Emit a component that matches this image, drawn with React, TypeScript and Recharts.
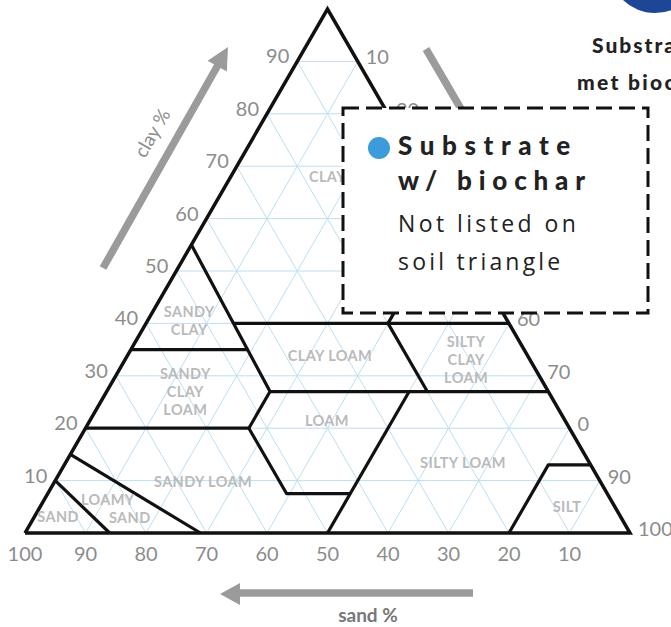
import React from 'react';
import { ScatterChart, Scatter, XAxis, YAxis, ReferenceLine } from 'recharts';

// every 10 % of each fraction gets a light grid line
const gridSteps = [10, 20, 30, 40, 50, 60, 70, 80, 90];

const sandTicks = [100, 90, 80, 70, 60, 50, 40, 30, 20, 10];
const clayTicks = [10, 20, 30, 40, 50, 60, 70, 80, 90];
const siltTicks = [10, 20, 30, 40, 50, 60, 70, 80, 90, 100];
const siltTickText = ['10', '20', '30', '40', '50', '60', '70', '0', '90', '100'];

// triangle edges and texture class borders as [sand %, clay %]
const outline = [[100, 0], [0, 100], [0, 0], [100, 0]];
const borders = [
  [[45, 55], [46, 27], [53, 20], [53, 7.5], [42.5, 7.5]],
  [[45.5, 40], [0, 40]],
  [[20, 40], [0, 60]],
  [[65, 35], [45.6, 35]],
  [[46, 27], [0, 27]],
  [[20, 40], [20, 27]],
  [[80, 20], [53, 20]],
  [[50, 0], [23, 27]],
  [[20, 0], [7, 13], [0, 13]],
  [[85, 15], [71, 0]],
  [[90, 10], [86, 0]],
];

const classNames = [
  { lines: ['CLAY'], sand: 16, clay: 68 },
  { lines: ['SANDY', 'CLAY'], sand: 52.6, clay: 40.5 },
  { lines: ['SANDY', 'CLAY', 'LOAM'], sand: 60, clay: 27 },
  { lines: ['CLAY LOAM'], sand: 32.7, clay: 33.8 },
  { lines: ['SILTY', 'CLAY', 'LOAM'], sand: 10.6, clay: 33 },
  { lines: ['LOAM'], sand: 39.4, clay: 21.4 },
  { lines: ['SILTY LOAM'], sand: 20.9, clay: 13.4 },
  { lines: ['SANDY LOAM'], sand: 65.7, clay: 9.75 },
  { lines: ['LOAMY', 'SAND'], sand: 82.2, clay: 4.6, shift: 11 },
  { lines: ['SAND'], sand: 93, clay: 3.06 },
  { lines: ['SILT'], sand: 7.9, clay: 5 },
];

const H3 = Math.sqrt(3) / 2;
const PX = 6.05; // pixels per percent along a side

const toXY = (sand: number, clay: number) => {
  const silt = 100 - sand - clay;
  return { x: silt + clay / 2, y: clay * H3 };
};

const gridLines: { x: number; y: number }[][] = [];
gridSteps.forEach((v) => {
  gridLines.push([toXY(100 - v, v), toXY(0, v)]); // clay
  gridLines.push([toXY(v, 100 - v), toXY(v, 0)]); // sand
  gridLines.push([toXY(100 - v, 0), toXY(0, 100 - v)]); // silt
});

const sandPts = sandTicks.map((s) => ({ ...toXY(s, 0), label: String(s) }));
const clayPts = clayTicks.map((c) => ({ ...toXY(100 - c, c), label: String(c) }));
const siltPts = siltTicks.map((t, i) => ({ ...toXY(0, 100 - t), label: siltTickText[i] }));
const namePts = classNames.map((n) => ({ ...toXY(n.sand, n.clay), lines: n.lines, shift: n.shift || 0 }));

const tickFont = { fontFamily: 'Lato, sans-serif', fontSize: 20, fill: '#8c8c8c' };

const tickShape = (anchor: 'start' | 'middle' | 'end', dx: number, dy: number) => (p: any) => (
  <text x={p.cx + dx} y={p.cy + dy} textAnchor={anchor} {...tickFont}>
    {p.payload?.label}
  </text>
);

const NameShape = (p: any) => {
  const lines: string[] = p.payload?.lines || [];
  const shift = p.payload?.shift || 0;
  const gap = 18;
  const top = p.cy - ((lines.length - 1) * gap) / 2 + 5;
  return (
    <g>
      {lines.map((l, i) => (
        <text
          key={i}
          x={p.cx + (lines.length > 1 ? (i === 0 ? -shift : shift) : 0)}
          y={top + i * gap}
          textAnchor="middle"
          fontFamily="Lato, sans-serif"
          fontWeight={700}
          fontSize={14.5}
          letterSpacing={0.4}
          fill="#bababa"
        >
          {l}
        </text>
      ))}
    </g>
  );
};

const noDot = () => <g />;

const App: React.FC = () => {
  return (
    <div style={{ position: 'relative', width: 671, height: 627, overflow: 'hidden', background: '#fff' }}>
      <style>{'body{margin:0}'}</style>
      <ScatterChart width={671} height={627} margin={{ top: 0, right: 0, bottom: 0, left: 0 }}>
        <XAxis type="number" dataKey="x" domain={[-25 / PX, 646 / PX]} hide allowDataOverflow />
        <YAxis type="number" dataKey="y" domain={[-94 / PX, 533 / PX]} hide allowDataOverflow />
        {gridLines.map((seg, i) => (
          <ReferenceLine key={`g${i}`} segment={seg} stroke="#bcdff1" strokeWidth={1} />
        ))}
        {borders.map((b, i) => (
          <Scatter
            key={`b${i}`}
            data={b.map(([s, c]) => toXY(s, c))}
            line={{ stroke: '#111', strokeWidth: 3.2, strokeLinejoin: 'round' }}
            shape={noDot}
            isAnimationActive={false}
          />
        ))}
        <Scatter
          data={outline.map(([s, c]) => toXY(s, c))}
          line={{ stroke: '#111', strokeWidth: 3.5, strokeLinejoin: 'miter' }}
          shape={noDot}
          isAnimationActive={false}
        />
        <Scatter data={namePts} shape={NameShape} isAnimationActive={false} />
        <Scatter data={sandPts} shape={tickShape('middle', 0, 28)} isAnimationActive={false} />
        <Scatter data={clayPts} shape={tickShape('end', -8, 2)} isAnimationActive={false} />
        <Scatter data={siltPts} shape={tickShape('start', 8, 3)} isAnimationActive={false} />
      </ScatterChart>

      <svg width={671} height={627} style={{ position: 'absolute', left: 0, top: 0, pointerEvents: 'none' }}>
        {/* axis arrows */}
        <line x1={103} y1={268} x2={218} y2={65} stroke="#9b9b9b" strokeWidth={7.5} />
        <polygon points="228,47 226.8,71.5 207.6,60.7" fill="#9b9b9b" />
        <text x={152} y={140} transform="rotate(-60 152 133)" textAnchor="middle" fontFamily="Lato, sans-serif" fontSize={19} fill="#8c8c8c">
          clay %
        </text>
        <line x1={426} y1={49} x2={478} y2={138} stroke="#9b9b9b" strokeWidth={7.5} />
        <line x1={473} y1={593} x2={236} y2={593} stroke="#9b9b9b" strokeWidth={7.5} />
        <polygon points="220,594 240,583 240,605" fill="#9b9b9b" />
        <text x={368} y={622} textAnchor="middle" fontFamily="Lato, sans-serif" fontWeight={700} fontSize={19} fill="#777">
          sand %
        </text>

        {/* corner badge */}
        <circle cx={655} cy={-33} r={46} fill="#1d4696" />
        <text x={592} y={53} fontFamily="Lato, sans-serif" fontWeight={900} fontSize={21} fill="#222" letterSpacing={2}>
          Substraat
        </text>
        <text x={577} y={90} fontFamily="Lato, sans-serif" fontWeight={900} fontSize={21} fill="#222" letterSpacing={2.3}>
          met biochar
        </text>

        {/* note box */}
        <rect x={343} y={108} width={305} height={205} fill="#fff" stroke="#111" strokeWidth={3} strokeDasharray="16 7" />
        <circle cx={379} cy={148} r={11} fill="#3b9bdb" />
        <text x={398} y={155} fontFamily="Lato, sans-serif" fontWeight={900} fontSize={26} fill="#222" letterSpacing={7.6}>
          Substrate
        </text>
        <text x={398} y={190} fontFamily="Lato, sans-serif" fontWeight={900} fontSize={26} fill="#222" letterSpacing={6.8}>
          w/ biochar
        </text>
        <text x={398} y={232} fontFamily="'Open Sans', sans-serif" fontSize={23} fill="#222" letterSpacing={3.4}>
          Not listed on
        </text>
        <text x={398} y={270} fontFamily="'Open Sans', sans-serif" fontSize={23} fill="#222" letterSpacing={3.2}>
          soil triangle
        </text>
      </svg>
    </div>
  );
};

export default App;
